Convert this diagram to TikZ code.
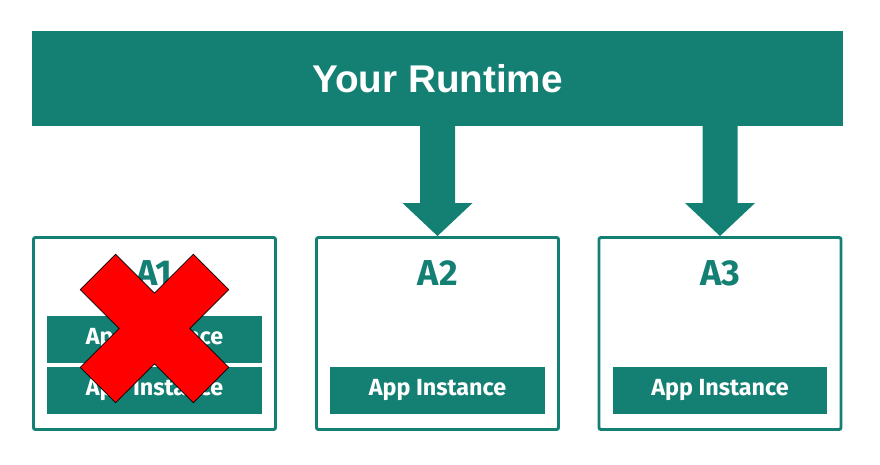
\documentclass[tikz,border=0pt]{standalone}
\usepackage{fontspec}
\setmainfont{Liberation Sans}
\newfontfamily\boxfont{Fira Sans}
\usetikzlibrary{positioning,calc}
\definecolor{runteal}{RGB}{20,128,116}

\begin{document}
\begin{tikzpicture}[x=0.75pt,y=-0.75pt]
  \tikzset{runtime/.style = {fill=runteal,text=white,minimum width=608pt,minimum height=71pt,
                             font=\fontsize{29}{32}\selectfont\bfseries}}
  \tikzset{appbox/.style = {draw=runteal,line width=2.2pt,rounded corners=1.5pt,
                            minimum width=181.5pt,minimum height=144pt}}
  \tikzset{boxlabel/.style = {text=runteal,font=\boxfont\fontsize{27}{29}\selectfont\bfseries}}
  \tikzset{instance/.style = {fill=runteal,text=white,minimum width=161pt,minimum height=35pt,
                              font=\boxfont\fontsize{17.5}{20}\selectfont\bfseries}}

  \useasboundingbox (0,0) rectangle (880,464);

  \node[runtime] (runtime) at (437.5,78.5) {Your Runtime};

  \node[appbox] (a1) at (154.5,333.5) {};
  \node[appbox] (a2) at (437.5,333.5) {};
  \node[appbox] (a3) at (720,333.5) {};

  \foreach \b/\t in {a1/A1,a2/A2,a3/A3}
    \node[boxlabel] (\b label) at ($(\b.north)+(0,37)$) {\t};

  \node[instance,anchor=south] (a1i2) at ($(a1.south)+(0,-17)$) {App Instance};
  \node[instance,above=3pt of a1i2] (a1i1) {App Instance};
  \node[instance,anchor=south] (a2i1) at ($(a2.south)+(0,-17)$) {App Instance};
  \node[instance,anchor=south] (a3i1) at ($(a3.south)+(0,-17)$) {App Instance};

  % block arrows from the runtime down to the boxes
  \foreach \b in {a2,a3}
    \fill[runteal] ($(runtime.south -| \b.north)+(-17.5,0)$) -- ($(\b.north)+(-17.5,-33)$)
      -- ($(\b.north)+(-35,-33)$) -- (\b.north) -- ($(\b.north)+(35,-33)$)
      -- ($(\b.north)+(17.5,-33)$) -- ($(runtime.south -| \b.north)+(17.5,0)$) -- cycle;

  % failed box
  \filldraw[fill=red,draw=black,line width=0.5pt,shift={(154.5,328.5)},rotate=45]
    (25,80) -- (-25,80) -- (-25,25) -- (-80,25) -- (-80,-25) -- (-25,-25) -- (-25,-80)
    -- (25,-80) -- (25,-25) -- (80,-25) -- (80,25) -- (25,25) -- cycle;
\end{tikzpicture}
\end{document}
